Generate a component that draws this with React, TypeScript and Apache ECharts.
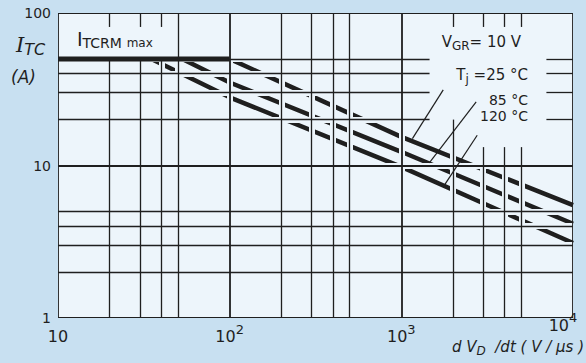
import React, { useEffect, useRef } from "react";
import * as echarts from "echarts";

const FONT = "DejaVu Sans";
const INK = "#1f1f1f";
const PLOT_BG = "#edf5fb";
const PAGE_BG = "#c8e0f1";

// axis ranges and ticks
const xTicks = [10, 100, 1000, 10000];
const yTicks = [1, 10, 100];

// curves: [dV/dt (V/us), I_TC (A)]
const curve25: number[][] = [[100, 50], [1000, 15.4], [10000, 5.5]];
const curve85: number[][] = [[53, 50], [100, 35], [1000, 12.3], [10000, 4.15]];
const curve120: number[][] = [[35, 50], [100, 28], [1000, 9.8], [10000, 3.1]];
const itcrmMax: number[][] = [[10, 50], [100, 50]];

// leader lines from labels to curves
const leader25: number[][] = [[1754, 31.3], [1160, 15]];
const leader85: number[][] = [[2729, 26.1], [1455, 10.4]];
const leader120: number[][] = [[2767, 15.8], [1778, 7.4]];

// grid lines: vertical [x, yFrom, yTo], horizontal [y, xFrom, xTo]
const vGridMinor: number[][] = [
  [20, 1, 50], [20, 81, 100],
  [30, 1, 50], [30, 81, 100],
  [40, 1, 50], [40, 81, 100],
  [50, 1, 100],
  [200, 1, 100], [300, 1, 100], [400, 1, 100], [500, 1, 100],
  [2000, 1, 20], [2000, 81, 100],
  [3000, 1, 13.2], [3000, 81, 100],
  [4000, 1, 13.2], [4000, 81, 100],
  [5000, 1, 13.2], [5000, 81, 100],
];
const vGridMajor: number[][] = [
  [10, 1, 100], [100, 1, 100], [1000, 1, 100], [10000, 1, 100],
];
const hGridMinor: number[][] = [
  [2, 10, 10000], [3, 10, 10000], [4, 10, 10000], [5, 10, 10000],
  [20, 10, 1460], [20, 7000, 10000],
  [30, 10, 1460], [30, 7000, 10000],
  [40, 10, 1460], [40, 7000, 10000],
  [50, 10, 1460], [50, 7000, 10000],
];
const hGridMajor: number[][] = [
  [1, 10, 10000], [10, 10, 10000], [100, 10, 10000],
];

export default function App() {
  const ref = useRef<HTMLDivElement>(null);
  useEffect(() => {
    const chart = echarts.init(ref.current!, null, { renderer: "svg" });
    const vSeg = (list: number[][], width: number) =>
      list.map(([x, a, b]) => ({ coords: [[x, a], [x, b]], lineStyle: { width } }));
    const hSeg = (list: number[][], width: number) =>
      list.map(([y, a, b]) => ({ coords: [[a, y], [b, y]], lineStyle: { width } }));
    const gridData = [
      ...vSeg(vGridMinor, 1.3), ...hSeg(hGridMinor, 1.3),
      ...vSeg(vGridMajor, 1.8), ...hSeg(hGridMajor, 1.8),
    ];
    const haloData = [
      ...vSeg(vGridMinor, 6), ...hSeg(hGridMinor, 6),
      ...vSeg(vGridMajor.slice(1, 3), 6), ...hSeg(hGridMajor.slice(1, 2), 6),
    ];
    const curveStyle = { color: INK, width: 4.5 };
    const txt = (x: number, y: number, text: string, rich: any, align = "left", extra: any = {}) => ({
      type: "text",
      x, y, z: 100,
      style: {
        text, rich, fill: INK, fontFamily: FONT, fontSize: 15,
        align, textAlign: align, verticalAlign: "middle", textVerticalAlign: "middle",
        ...extra,
      },
    });
    const sub = (size: number, pad: number, italic = false) => ({
      fontSize: size, fontFamily: FONT, fill: INK, padding: [pad, 0, 0, 0],
      fontStyle: italic ? "italic" : "normal",
    });
    const base = (size: number, italic = false, family = FONT) => ({
      fontSize: size, fontFamily: family, fill: INK, fontStyle: italic ? "italic" : "normal",
    });

    chart.setOption({
      animation: false,
      backgroundColor: PAGE_BG,
      grid: { left: 58, right: 13, top: 13, bottom: 45, show: true, backgroundColor: PLOT_BG, borderWidth: 0 },
      xAxis: {
        type: "log", logBase: 10, min: xTicks[0], max: xTicks[xTicks.length - 1],
        axisLine: { show: false }, axisTick: { show: false }, splitLine: { show: false },
        axisLabel: {
          margin: 18, verticalAlign: "middle", color: INK, fontFamily: FONT, fontSize: 16,
          showMinLabel: true, showMaxLabel: true,
          formatter: (v: number) => {
            const e = Math.round(Math.log10(v));
            if (e === 1) return "{b|10}";
            if (e === 4) return "{r|10}{rs|4}";
            return `{b|10}{s|${e}}`;
          },
          rich: {
            b: { fontSize: 16, fontFamily: FONT, color: INK },
            s: { fontSize: 13, fontFamily: FONT, color: INK, padding: [0, 0, 14, 0] },
            r: { fontSize: 16, fontFamily: FONT, color: INK, padding: [0, 0, 22, 0] },
            rs: { fontSize: 13, fontFamily: FONT, color: INK, padding: [0, 20, 38, 0] },
          },
        },
      },
      yAxis: {
        type: "log", logBase: 10, min: yTicks[0], max: yTicks[yTicks.length - 1],
        axisLine: { show: false }, axisTick: { show: false }, splitLine: { show: false },
        axisLabel: {
          margin: 7, color: INK, fontFamily: FONT, fontSize: 14, showMinLabel: true, showMaxLabel: true,
          formatter: (v: number) => String(Math.round(v)),
        },
      },
      series: [
        { name: "25 °C", type: "line", data: curve25, showSymbol: false, lineStyle: curveStyle, z: 2 },
        { name: "85 °C", type: "line", data: curve85, showSymbol: false, lineStyle: curveStyle, z: 2 },
        { name: "120 °C", type: "line", data: curve120, showSymbol: false, lineStyle: curveStyle, z: 2 },
        {
          type: "lines", coordinateSystem: "cartesian2d", z: 3, silent: true,
          lineStyle: { color: PLOT_BG, opacity: 1 }, data: haloData,
        },
        { name: "ITCRM max", type: "line", data: itcrmMax, showSymbol: false, lineStyle: { color: INK, width: 5 }, z: 4 },
        {
          type: "lines", coordinateSystem: "cartesian2d", z: 5, silent: true,
          lineStyle: { color: INK, opacity: 1 }, data: gridData,
        },
        {
          type: "lines", coordinateSystem: "cartesian2d", z: 6, silent: true,
          lineStyle: { color: INK, opacity: 1, width: 1.2 },
          data: [{ coords: leader25 }, { coords: leader85 }, { coords: leader120 }],
        },
      ],
      graphic: [
        txt(77, 38.5, "{i|I}{s|TCRM} {m|max}", { i: base(19), s: sub(14, 9), m: sub(12, 9) }),
        txt(16, 45, "{i|I}{s|TC}", { i: base(21, true, "DejaVu Serif"), s: sub(16, 9, true) }),
        txt(11, 77, "(A)", {}, "left", { fontStyle: "italic", fontSize: 17 }),
        txt(521, 42, "{b|V}{s|GR}{b|= 10 V}", { b: base(15), s: sub(12, 7) }, "right"),
        txt(528, 75, "{b|T}{s|j}{b| =25 °C}", { b: base(15), s: sub(12, 8) }, "right"),
        txt(528, 100, "85 °C", {}, "right", { fontSize: 14, lineHeight: 14 }),
        txt(528, 116, "120 °C", {}, "right", { fontSize: 14, lineHeight: 14 }),
        txt(584, 347, "{b|d V}{s|D}{b|  /dt ( V / µs )}", { b: base(15, true), s: sub(12, 7, true) }, "right"),
      ],
    });
    return () => chart.dispose();
  }, []);
  return <div ref={ref} style={{ position: "fixed", left: 0, top: 0, width: 586, height: 363 }} />;
}
